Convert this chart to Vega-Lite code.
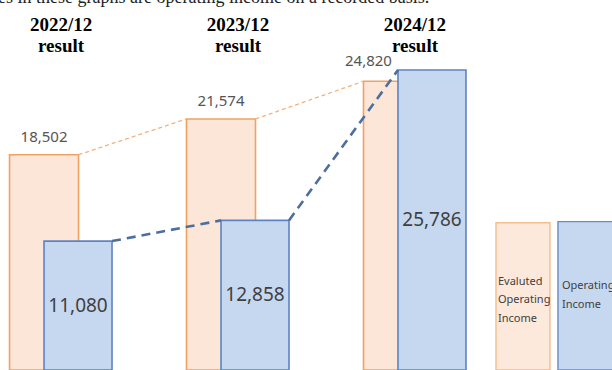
{
  "$schema": "https://vega.github.io/schema/vega-lite/v6.json",
  "width": 612,
  "height": 370,
  "autosize": {"type": "none"},
  "padding": 0,
  "background": "white",
  "title": {
    "text": "es in these graphs are operating income on a recorded basis.",
    "anchor": "start",
    "frame": "group",
    "font": "Liberation Serif",
    "fontSize": 18,
    "fontWeight": "normal",
    "color": "#222222",
    "baseline": "alphabetic",
    "offset": -3,
    "dx": -2,
    "dy": 18
  },
  "config": {"view": {"stroke": null}},
  "datasets": {
    "results": [
      {"period": "2022/12", "series": "Evaluated Operating Income", "value": 18502},
      {"period": "2023/12", "series": "Evaluated Operating Income", "value": 21574},
      {"period": "2024/12", "series": "Evaluated Operating Income", "value": 24820},
      {"period": "2022/12", "series": "Operating Income", "value": 11080},
      {"period": "2023/12", "series": "Operating Income", "value": 12858},
      {"period": "2024/12", "series": "Operating Income", "value": 25786}
    ],
    "key_items": [
      {"period": "Legend", "series": "Evaluated Operating Income", "label": "Evaluted\nOperating\nIncome"},
      {"period": "Legend", "series": "Operating Income", "label": "Operating\nIncome"}
    ]
  },
  "encoding": {
    "x": {
      "field": "period",
      "type": "nominal",
      "scale": {
        "domain": ["2022/12", "2023/12", "2024/12", "Legend"],
        "paddingInner": 0.85,
        "paddingOuter": 0.154,
        "align": 0.876
      },
      "axis": {
        "orient": "top",
        "offset": -36,
        "title": null,
        "domain": false,
        "ticks": false,
        "grid": false,
        "labelAngle": 0,
        "labelPadding": 2,
        "labelExpr": "datum.value == 'Legend' ? '' : [datum.value, 'result']",
        "labelFont": "Liberation Serif",
        "labelFontWeight": "bold",
        "labelFontSize": 19,
        "labelLineHeight": 21,
        "labelColor": "#000000"
      }
    }
  },
  "layer": [
    {
      "layer": [
        {
          "data": {"name": "results"},
          "transform": [{"filter": "datum.series == 'Evaluated Operating Income'"}],
          "mark": {"type": "bar", "width": 69, "xOffset": -17, "fill": "#FCE6D7", "stroke": "#EFA262", "strokeWidth": 1.6},
          "encoding": {"y": {"field": "value", "type": "quantitative", "scale": {"domain": [0, 31800], "nice": false, "zero": true}, "axis": null}}
        },
        {
          "data": {"name": "key_items"},
          "transform": [{"filter": "datum.series == 'Evaluated Operating Income'"}],
          "mark": {"type": "bar", "width": 54, "xOffset": -69, "fill": "#FCE9DC", "stroke": "#F3BD8E", "strokeWidth": 1.4},
          "encoding": {"y": {"datum": 12650, "type": "quantitative", "scale": {"domain": [0, 31800], "nice": false, "zero": true}, "axis": null}}
        },
        {
          "data": {"name": "results"},
          "transform": [{"filter": "datum.series == 'Operating Income'"}],
          "mark": {"type": "bar", "width": 68, "xOffset": 17, "fill": "#C6D8F0", "stroke": "#5F83C0", "strokeWidth": 1.6},
          "encoding": {"y": {"field": "value", "type": "quantitative", "scale": {"domain": [0, 31800], "nice": false, "zero": true}, "axis": null}}
        },
        {
          "data": {"name": "key_items"},
          "transform": [{"filter": "datum.series == 'Operating Income'"}],
          "mark": {"type": "bar", "width": 68, "xOffset": 0, "fill": "#C6D8F0", "stroke": "#6A8CC4", "strokeWidth": 1.4},
          "encoding": {"y": {"datum": 12750, "type": "quantitative", "scale": {"domain": [0, 31800], "nice": false, "zero": true}, "axis": null}}
        },
        {
          "data": {"name": "results"},
          "transform": [
            {"filter": "datum.series == 'Evaluated Operating Income'"},
            {"window": [{"op": "lead", "field": "period", "as": "next_period"}, {"op": "lead", "field": "value", "as": "next_value"}], "groupby": ["series"], "sort": [{"field": "period"}]},
            {"filter": "datum.next_period != null"}
          ],
          "mark": {"type": "rule", "xOffset": 17.5, "x2Offset": -51.5, "stroke": "#F2B27E", "strokeWidth": 1.3, "strokeDash": [4, 3]},
          "encoding": {"x2": {"field": "next_period"}, "y": {"field": "value", "type": "quantitative", "scale": {"domain": [0, 31800], "nice": false, "zero": true}, "axis": null}, "y2": {"field": "next_value"}}
        },
        {
          "data": {"name": "results"},
          "transform": [
            {"filter": "datum.series == 'Operating Income'"},
            {"window": [{"op": "lead", "field": "period", "as": "next_period"}, {"op": "lead", "field": "value", "as": "next_value"}], "groupby": ["series"], "sort": [{"field": "period"}]},
            {"filter": "datum.next_period != null"}
          ],
          "mark": {"type": "rule", "xOffset": 51, "x2Offset": -17, "stroke": "#4E6E9E", "strokeWidth": 2.6, "strokeDash": [9, 6]},
          "encoding": {"x2": {"field": "next_period"}, "y": {"field": "value", "type": "quantitative", "scale": {"domain": [0, 31800], "nice": false, "zero": true}, "axis": null}, "y2": {"field": "next_value"}}
        },
        {
          "data": {"name": "results"},
          "transform": [{"filter": "datum.series == 'Evaluated Operating Income' && datum.period != '2024/12'"}],
          "mark": {"type": "text", "xOffset": -17, "dy": -10, "baseline": "bottom", "font": "Noto Sans", "fontSize": 15, "color": "#555555"},
          "encoding": {"y": {"field": "value", "type": "quantitative", "scale": {"domain": [0, 31800], "nice": false, "zero": true}, "axis": null}, "text": {"field": "value", "type": "quantitative", "format": ","}}
        },
        {
          "data": {"name": "results"},
          "transform": [{"filter": "datum.series == 'Evaluated Operating Income' && datum.period == '2024/12'"}],
          "mark": {"type": "text", "xOffset": -46.5, "dy": -12, "baseline": "bottom", "font": "Noto Sans", "fontSize": 15, "color": "#555555"},
          "encoding": {"y": {"field": "value", "type": "quantitative", "scale": {"domain": [0, 31800], "nice": false, "zero": true}, "axis": null}, "text": {"field": "value", "type": "quantitative", "format": ","}}
        },
        {
          "data": {"name": "key_items"},
          "transform": [{"filter": "datum.series == 'Evaluated Operating Income'"}],
          "mark": {"type": "text", "xOffset": -94, "align": "left", "baseline": "middle", "lineBreak": "\n", "lineHeight": 18.5, "font": "Noto Sans", "fontSize": 11, "color": "#404040"},
          "encoding": {"y": {"datum": 7600, "type": "quantitative", "scale": {"domain": [0, 31800], "nice": false, "zero": true}, "axis": null}, "text": {"field": "label", "type": "nominal"}}
        },
        {
          "data": {"name": "key_items"},
          "transform": [{"filter": "datum.series == 'Operating Income'"}],
          "mark": {"type": "text", "xOffset": -30, "align": "left", "baseline": "middle", "lineBreak": "\n", "lineHeight": 18.5, "font": "Noto Sans", "fontSize": 11, "color": "#404040"},
          "encoding": {"y": {"datum": 7200, "type": "quantitative", "scale": {"domain": [0, 31800], "nice": false, "zero": true}, "axis": null}, "text": {"field": "label", "type": "nominal"}}
        }
      ]
    },
    {
      "data": {"name": "results"},
      "transform": [{"filter": "datum.series == 'Operating Income'"}],
      "mark": {"type": "text", "xOffset": 17, "baseline": "middle", "font": "Noto Sans", "fontSize": 19, "color": "#3F3F3F"},
      "encoding": {
        "y": {"field": "value", "type": "quantitative", "scale": {"domain": [0, 63600], "nice": false, "zero": true}, "axis": null},
        "text": {"field": "value", "type": "quantitative", "format": ","}
      }
    }
  ],
  "resolve": {"scale": {"y": "independent"}}
}
